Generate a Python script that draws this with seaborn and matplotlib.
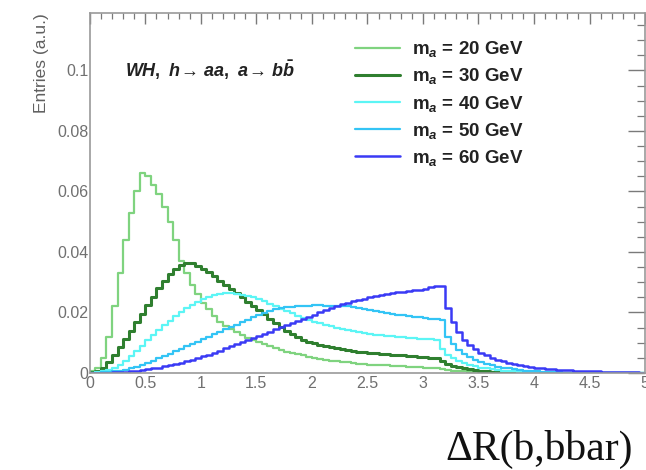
import numpy as np
import pandas as pd
import seaborn as sns
import matplotlib.pyplot as plt
from matplotlib.ticker import MultipleLocator

# Delta R(b, bbar) histograms, 100 bins of 0.05 from 0 to 5
edges = np.round(np.arange(0, 5.0001, 0.05), 3)
centers = (edges[:-1] + edges[1:]) / 2

h20 = [0.0005, 0.0015, 0.0050, 0.0120, 0.0220, 0.0330, 0.0440, 0.0530, 0.0600, 0.0660,
       0.0650, 0.0620, 0.0590, 0.0550, 0.0500, 0.0440, 0.0370, 0.0330, 0.0290, 0.0260,
       0.0230, 0.0210, 0.0190, 0.0170, 0.0155, 0.0145, 0.0135, 0.0125, 0.0117, 0.0110,
       0.0102, 0.0095, 0.0088, 0.0082, 0.0076, 0.0070, 0.0066, 0.0062, 0.0058, 0.0054,
       0.0050, 0.0047, 0.0044, 0.0041, 0.0039, 0.0037, 0.0035, 0.0033, 0.0031, 0.0030,
       0.0028, 0.0027, 0.0026, 0.0025, 0.0024, 0.0023, 0.0022, 0.0021, 0.0020, 0.0019,
       0.0018, 0.0017, 0.0016, 0.0012, 0.0009, 0.0007, 0.0006, 0.0005, 0.0004, 0.0003,
       0.0003, 0.0002, 0.0002, 0.0001, 0.0001, 0.0001, 0, 0, 0, 0,
       0, 0, 0, 0, 0, 0, 0, 0, 0, 0,
       0, 0, 0, 0, 0, 0, 0, 0, 0, 0]

h30 = [0.0003, 0.0008, 0.0018, 0.0035, 0.0058, 0.0085, 0.0112, 0.0140, 0.0168, 0.0196,
       0.0224, 0.0252, 0.0280, 0.0305, 0.0328, 0.0345, 0.0358, 0.0365, 0.0362, 0.0355,
       0.0345, 0.0333, 0.0320, 0.0305, 0.0292, 0.0278, 0.0264, 0.0250, 0.0236, 0.0222,
       0.0208, 0.0194, 0.0180, 0.0165, 0.0152, 0.0140, 0.0128, 0.0118, 0.0110, 0.0104,
       0.0098, 0.0093, 0.0089, 0.0086, 0.0082, 0.0079, 0.0076, 0.0074, 0.0071, 0.0069,
       0.0067, 0.0066, 0.0064, 0.0062, 0.0061, 0.0060, 0.0059, 0.0057, 0.0056, 0.0054,
       0.0053, 0.0051, 0.0048, 0.0038, 0.0030, 0.0024, 0.0019, 0.0015, 0.0012, 0.0009,
       0.0007, 0.0005, 0.0004, 0.0003, 0.0002, 0.0002, 0.0001, 0.0001, 0, 0,
       0, 0, 0, 0, 0, 0, 0, 0, 0, 0,
       0, 0, 0, 0, 0, 0, 0, 0, 0, 0]

h40 = [0.0001, 0.0003, 0.0006, 0.0011, 0.0018, 0.0027, 0.0040, 0.0055, 0.0072, 0.0090,
       0.0108, 0.0125, 0.0142, 0.0158, 0.0173, 0.0188, 0.0202, 0.0215, 0.0226, 0.0236,
       0.0244, 0.0251, 0.0257, 0.0261, 0.0263, 0.0264, 0.0262, 0.0259, 0.0255, 0.0250,
       0.0244, 0.0237, 0.0229, 0.0221, 0.0213, 0.0205, 0.0197, 0.0189, 0.0182, 0.0176,
       0.0170, 0.0164, 0.0159, 0.0154, 0.0150, 0.0146, 0.0142, 0.0138, 0.0135, 0.0132,
       0.0129, 0.0127, 0.0125, 0.0123, 0.0121, 0.0119, 0.0118, 0.0116, 0.0115, 0.0114,
       0.0112, 0.0111, 0.0108, 0.0080, 0.0060, 0.0048, 0.0040, 0.0033, 0.0027, 0.0022,
       0.0018, 0.0015, 0.0012, 0.0010, 0.0008, 0.0006, 0.0005, 0.0004, 0.0003, 0.0002,
       0.0002, 0.0001, 0.0001, 0.0001, 0, 0, 0, 0, 0, 0,
       0, 0, 0, 0, 0, 0, 0, 0, 0, 0]

h50 = [0.0000, 0.0001, 0.0002, 0.0003, 0.0005, 0.0008, 0.0011, 0.0015, 0.0020, 0.0026,
       0.0033, 0.0040, 0.0048, 0.0056, 0.0064, 0.0072, 0.0080, 0.0088, 0.0096, 0.0104,
       0.0112, 0.0120, 0.0128, 0.0136, 0.0144, 0.0152, 0.0160, 0.0168, 0.0176, 0.0184,
       0.0192, 0.0199, 0.0205, 0.0210, 0.0214, 0.0217, 0.0219, 0.0221, 0.0222, 0.0223,
       0.0224, 0.0224, 0.0223, 0.0222, 0.0220, 0.0223, 0.0221, 0.0218, 0.0215, 0.0212,
       0.0208, 0.0205, 0.0202, 0.0199, 0.0196, 0.0193, 0.0191, 0.0189, 0.0186, 0.0184,
       0.0181, 0.0179, 0.0177, 0.0175, 0.0120, 0.0095, 0.0076, 0.0062, 0.0052, 0.0043,
       0.0036, 0.0030, 0.0025, 0.0021, 0.0018, 0.0015, 0.0012, 0.0010, 0.0008, 0.0006,
       0.0005, 0.0004, 0.0003, 0.0002, 0.0002, 0.0001, 0.0001, 0.0001, 0, 0,
       0, 0, 0, 0, 0, 0, 0, 0, 0, 0]

h60 = [0.0000, 0.0000, 0.0001, 0.0001, 0.0002, 0.0003, 0.0004, 0.0005, 0.0007, 0.0009,
       0.0012, 0.0015, 0.0018, 0.0022, 0.0026, 0.0030, 0.0034, 0.0039, 0.0044, 0.0049,
       0.0055, 0.0061, 0.0067, 0.0074, 0.0081, 0.0088, 0.0095, 0.0102, 0.0109, 0.0116,
       0.0123, 0.0130, 0.0137, 0.0144, 0.0151, 0.0158, 0.0165, 0.0172, 0.0179, 0.0186,
       0.0193, 0.0200, 0.0207, 0.0214, 0.0221, 0.0227, 0.0232, 0.0237, 0.0242, 0.0246,
       0.0250, 0.0254, 0.0258, 0.0262, 0.0265, 0.0267, 0.0269, 0.0271, 0.0274, 0.0273,
       0.0278, 0.0284, 0.0289, 0.0287, 0.0215, 0.0170, 0.0135, 0.0110, 0.0092, 0.0078,
       0.0067, 0.0058, 0.0050, 0.0044, 0.0039, 0.0034, 0.0030, 0.0026, 0.0023, 0.0020,
       0.0018, 0.0016, 0.0014, 0.0012, 0.0011, 0.0010, 0.0009, 0.0008, 0.0007, 0.0006,
       0.0005, 0.0005, 0.0004, 0.0004, 0.0003, 0.0003, 0.0002, 0.0002, 0.0002, 0.0001]

labels = ["20", "30", "40", "50", "60"]
series = [h20, h30, h40, h50, h60]
colors = ["#7fd37f", "#2f7f2f", "#5cf5f5", "#33c4f5", "#3a3af5"]
widths = [1.6, 2.2, 1.6, 1.6, 1.8]

sns.set_style("white")
plt.rcParams['font.family'] = ['Liberation Sans', 'DejaVu Sans']
plt.rcParams['mathtext.fontset'] = 'custom'
plt.rcParams['mathtext.rm'] = 'Liberation Sans:bold'
plt.rcParams['mathtext.it'] = 'Liberation Sans:bold:italic'
plt.rcParams['mathtext.bf'] = 'Liberation Sans:bold'

fig = plt.figure(figsize=(6.46, 4.70), dpi=100)
ax = fig.add_axes([0.139, 0.2064, 0.8595, 0.766])

for lab, vals, col, lw in zip(labels, series, colors, widths):
    df = pd.DataFrame({"dr": centers, "w": vals})
    sns.histplot(data=df, x="dr", weights="w", bins=list(edges), element="step",
                 fill=False, color=col, linewidth=lw, ax=ax,
                 label="m$_{a}$ = " + lab + " GeV")

ax.set_xlim(0, 5)
ax.set_ylim(0, 0.119)
ax.xaxis.set_minor_locator(MultipleLocator(0.1))
ax.yaxis.set_minor_locator(MultipleLocator(0.005))
ax.set_xticks(np.arange(0, 5.01, 0.5))
ax.set_xticklabels(["0", "0.5", "1", "1.5", "2", "2.5", "3", "3.5", "4", "4.5", "5"])
ax.set_yticks([0, 0.02, 0.04, 0.06, 0.08, 0.1])
ax.set_yticklabels(["0", "0.02", "0.04", "0.06", "0.08", "0.1"])

grey = "#7a7a7a"
for s in ax.spines.values():
    s.set_color("#999999")
    s.set_linewidth(1.2)
ax.tick_params(axis="x", which="major", direction="in", length=8, width=1.0,
               color=grey, top=True, labelsize=11.5, labelcolor="#707070", pad=2)
ax.tick_params(axis="x", which="minor", direction="in", length=4, width=0.9,
               color=grey, top=True)
ax.tick_params(axis="y", which="major", direction="in", length=12, width=1.0,
               color=grey, right=True, labelsize=11.5, labelcolor="#707070", pad=1)
ax.tick_params(axis="y", which="minor", direction="in", length=6, width=0.9,
               color=grey, right=True)

ax.set_xlabel("")
ax.set_ylabel("Entries (a.u.)", fontsize=12.5, color="#606060", loc="top", labelpad=6)

ax.text(0.063, 0.842, r"$WH,\ h\!\rightarrow\, aa,\ a\!\rightarrow\, b\bar{b}$",
        transform=ax.transAxes, fontsize=13, color="#222222", va="center")

ax.legend(loc="upper left", bbox_to_anchor=(0.4775, 0.927), frameon=False,
          borderpad=0, borderaxespad=0,
          prop={"weight": "bold", "size": 13.5}, handlelength=2.4, handletextpad=0.65,
          labelspacing=0.38, labelcolor="#222222")

fig.text(0.98, 0.021, "ΔR(b,bbar)", family=["Liberation Serif", "DejaVu Serif"],
         fontsize=30, ha="right", va="baseline", color="#111111")

fig.savefig("out.png", dpi=100)
